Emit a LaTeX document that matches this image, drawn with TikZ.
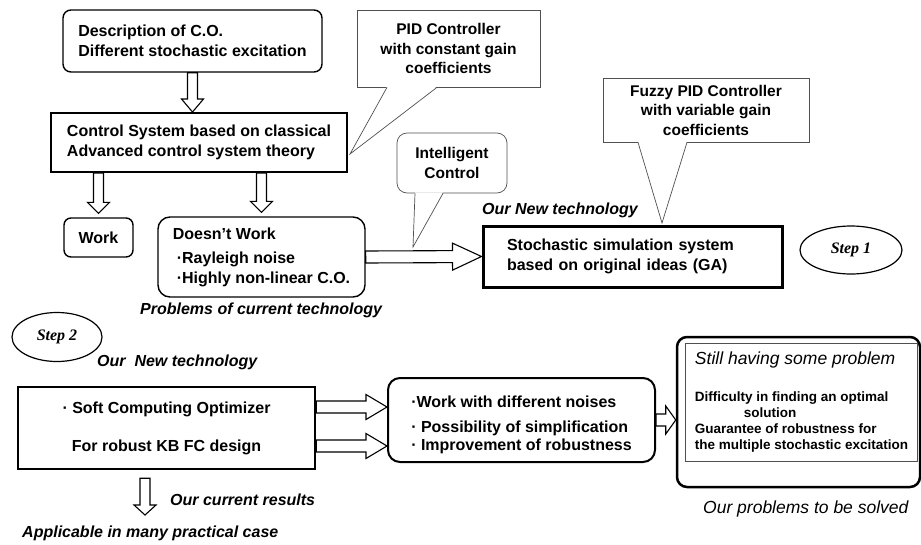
\documentclass[tikz,border=0pt]{standalone}
\usepackage{fontspec}
\setmainfont{Liberation Sans}
\newfontfamily\stepfont{Liberation Serif}
\usetikzlibrary{calc,shapes.geometric}
\definecolor{callgray}{RGB}{80,80,80}
\newcommand\probtitle{\fontsize{17.5}{20}\selectfont\mdseries\itshape}
\newcommand\probline{\fontsize{13.5}{16}\selectfont\bfseries}
\tikzset{
  % Kutilar
  boxtext/.style   = {font=\fontsize{16}{20}\selectfont\bfseries},
  roundbox/.style  = {draw, rounded corners=8pt, line width=1.4pt, align=left, inner sep=0pt, boxtext},
  plainbox/.style  = {draw, line width=2pt, align=left, inner sep=0pt, boxtext},
  % Izoh pufakchalari
  callbox/.style   = {draw=callgray, line width=0.7pt, fill=white, align=center, inner sep=0pt,
                      font=\fontsize{15.5}{19.5}\selectfont\bfseries},
  calltail/.style  = {draw=callgray, line width=0.7pt},
  % Yozuvlar
  note/.style      = {anchor=west, inner sep=0pt, font=\fontsize{16}{20}\selectfont\bfseries\itshape},
  plainnote/.style = {anchor=west, inner sep=0pt, font=\fontsize{17.5}{20}\selectfont\itshape},
  stepmark/.style  = {draw, ellipse, line width=1.2pt, inner sep=0pt,
                      font=\stepfont\fontsize{16}{20}\selectfont\bfseries\itshape},
  % Bo'sh strelka
  fatarrow/.style n args={3}{draw, fill=white, line width=1.1pt, to path={
    ($(\tikztostart)!#1!90:(\tikztotarget)$)
    -- ($(\tikztotarget)!#3!(\tikztostart) + (\tikztostart)!#1!90:(\tikztotarget) - (\tikztostart)$)
    -- ($(\tikztotarget)!#3!(\tikztostart) + (\tikztostart)!#2!90:(\tikztotarget) - (\tikztostart)$)
    -- (\tikztotarget)
    -- ($(\tikztotarget)!#3!(\tikztostart) + (\tikztostart)!#2!-90:(\tikztotarget) - (\tikztostart)$)
    -- ($(\tikztotarget)!#3!(\tikztostart) + (\tikztostart)!#1!-90:(\tikztotarget) - (\tikztostart)$)
    -- ($(\tikztostart)!#1!-90:(\tikztotarget)$) -- cycle}},
}
% pufakcha dumi: tugun, chap siljish, o'ng siljish, uch
\newcommand\calltailof[4]{%
  \fill[white] ([xshift=#2,yshift=1pt]#1.south) -- (#4) -- ([xshift=#3,yshift=1pt]#1.south) -- cycle;
  \draw[calltail] ([xshift=#2]#1.south) -- (#4) -- ([xshift=#3]#1.south);}

\begin{document}
\begin{tikzpicture}[x=1pt, y=-1pt]
  \useasboundingbox (0,0) rectangle (921,544);
  % Yuqori qism
  \node[roundbox, minimum width=259pt, minimum height=62pt] (desc) at (192.5,41)
    {Description of C.O.\\Different stochastic excitation};
  \node[plainbox, minimum width=296pt, minimum height=59pt] (ctrl) at (199,142.5)
    {Control System based on classical\\Advanced control system theory};
  \node[roundbox, rounded corners=7pt, minimum width=69pt, minimum height=39pt] (work) at (98.5,237.5) {Work};
  \node[roundbox, rounded corners=12pt, minimum width=207pt, minimum height=80pt] (dw) at (261.5,257)
    {Doesn’t Work\\[4pt]\hspace*{4pt}·Rayleigh noise\\\hspace*{4pt}·Highly non-linear C.O.};
  \node[plainbox, line width=3pt, minimum width=299pt, minimum height=61pt,
        text width=251pt, inner xsep=24pt] (stoch) at (632.5,256.5)
    {Stochastic simulation system\\based on original ideas (GA)};
  % Izoh pufakchalari
  \node[callbox, minimum width=183pt, minimum height=77pt] (pid) at (448.5,48.5)
    {PID Controller\\with constant gain\\coefficients};
  \node[callbox, rounded corners=10pt, minimum width=110pt, minimum height=60pt] (intel) at (452,163)
    {Intelligent\\Control};
  \node[callbox, minimum width=206pt, minimum height=64pt] (fuzzy) at (706,110)
    {Fuzzy PID Controller\\with variable gain\\coefficients};
  \coordinate (pidtip) at (350,154);
  \coordinate (inteltip) at (413,247);
  \coordinate (fuzzytip) at (662,223);
  \calltailof{pid}{-61.5pt}{-11.5pt}{pidtip}
  \calltailof{intel}{-37pt}{-9pt}{inteltip}
  \calltailof{fuzzy}{-68pt}{-19pt}{fuzzytip}
  % Bosqichlar
  \node[stepmark, minimum width=102pt, minimum height=48pt] (step1) at (851,250) {Step 1};
  \node[stepmark, minimum width=90pt, minimum height=49pt] (step2) at (57,337) {Step 2};
  % Pastki qism
  \node[plainbox, line width=2.5pt, align=center, minimum width=297pt, minimum height=82pt] (soft) at (166.5,428)
    {· Soft Computing Optimizer\\[18pt]For robust KB FC design};
  \node[roundbox, line width=2pt, rounded corners=12pt, minimum width=267pt, minimum height=84pt] (wwith) at (521.5,420)
    {\rule{0pt}{22pt}·Work with different noises\\[5pt]· Possibility of simplification\\[-2pt]· Improvement of robustness};
  \node[draw, line width=2.5pt, rounded corners=10pt, minimum width=243pt, minimum height=150pt] (still) at (798.5,412) {};
  \node[draw=callgray, line width=1pt, anchor=north west, align=left, inner xsep=9pt, inner ysep=0pt,
        minimum width=232pt, minimum height=118pt, font=\probline] (stillin) at (685,343)
    {\probtitle Still having some problem\\[21pt]
     Difficulty in finding an optimal\\
     \hspace*{49pt}solution\\
     Guarantee of robustness for\\
     the multiple stochastic excitation};
  % Yozuvlar
  \node[note] (newtech) at (482,210) {Our New technology};
  \node[note] (problems) at (140,310) {Problems of current technology};
  \node[note] (newtech2) at (97,362) {Our\ \ New technology};
  \node[note] (results) at (170,500) {Our current results};
  \node[note] (applic) at (22,533) {Applicable in many practical case};
  \node[plainnote] (tosolve) at (703,509) {Our problems to be solved};
  % Strelkalar
  \coordinate (upper) at (0,407);
  \coordinate (lower) at (0,446);
  \coordinate (resend) at (145,515);
  \draw[fatarrow={5pt}{11pt}{13pt}] (desc.south) to (desc.south |- ctrl.north);
  \draw[fatarrow={5pt}{11pt}{11pt}] (ctrl.south -| work.north) to ([yshift=4pt]work.north);
  \draw[fatarrow={5pt}{11pt}{11pt}] (ctrl.south -| dw.north) to ([yshift=4pt]dw.north);
  \draw[fatarrow={6pt}{13.5pt}{29pt}] (dw.east) to (stoch.west);
  \draw[fatarrow={6pt}{12.5pt}{21pt}] (soft.east |- upper) to (wwith.west |- upper);
  \draw[fatarrow={6pt}{12.5pt}{21pt}] (soft.east |- lower) to (wwith.west |- lower);
  \draw[fatarrow={6pt}{14pt}{10pt}] (wwith.east) to (wwith.east -| still.west);
  \draw[fatarrow={5pt}{11pt}{10pt}] (soft.south -| resend) ++(0,8) to (resend);
\end{tikzpicture}
\end{document}
